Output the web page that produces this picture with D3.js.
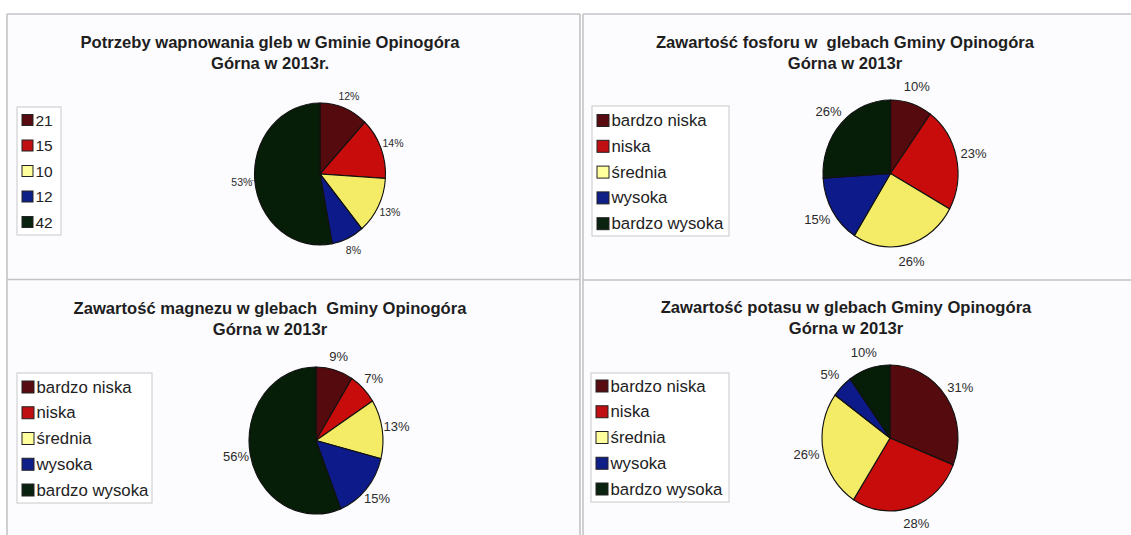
<!DOCTYPE html>
<html>
<head>
<meta charset="utf-8">
<script src="https://cdn.jsdelivr.net/npm/d3@7"></script>
<style>
  body { margin: 0; background: #ffffff; }
  text { font-family: "Liberation Sans", Arial, sans-serif; }
</style>
</head>
<body>
<div id="chart"></div>
<script>
// data
var titles = [
  ["Potrzeby wapnowania gleb w Gminie Opinogóra", "Górna w 2013r."],
  ["Zawartość fosforu w  glebach Gminy Opinogóra", "Górna w 2013r"],
  ["Zawartość magnezu w glebach  Gminy Opinogóra", "Górna w 2013r"],
  ["Zawartość potasu w glebach Gminy Opinogóra", "Górna w 2013r"]
];
var limeLabels = ["21", "15", "10", "12", "42"];
var limeShares = [12, 14, 13, 8, 53];
var classLabels = ["bardzo niska", "niska", "średnia", "wysoka", "bardzo wysoka"];
var phosphorus = [10, 23, 26, 15, 26];
var magnesium = [9, 7, 13, 15, 56];
var potassium = [31, 28, 26, 5, 10];

var sliceColors = ["#550a0e", "#c80b0b", "#f4ec66", "#0c1a8a", "#061d08"];
var legendColors = ["#580c12", "#c00f12", "#ffff9e", "#0f1f88", "#0a2210"];

var svgWidth = 1131, svgHeight = 535;

var svg = d3.select("#chart")
  .append("svg")
  .attr("width", svgWidth)
  .attr("height", svgHeight);

// panel frames
svg.append("rect").attr("x", 7).attr("y", 14).attr("width", 573).attr("height", 530).attr("fill", "#fcfcfe");
svg.append("rect").attr("x", 583).attr("y", 14).attr("width", 560).attr("height", 530).attr("fill", "#fcfcfe");
var frameLines = [
  [7, 14, 580, 14], [583, 14, 1131, 14],
  [7, 279.5, 580, 279.5], [583, 280, 1131, 280],
  [7, 14, 7, 535], [580, 14, 580, 535], [583, 14, 583, 535]
];
svg.selectAll("line.frame")
  .data(frameLines)
  .enter()
  .append("line")
  .attr("class", "frame")
  .attr("x1", d => d[0]).attr("y1", d => d[1])
  .attr("x2", d => d[2]).attr("y2", d => d[3])
  .attr("stroke", "#c4c4c8")
  .attr("stroke-width", 1.6);

// layout of the four charts
var panels = [
  { values: limeShares, labels: limeLabels, title: titles[0], tx: 270, ty: 42,
    cx: 320, cy: 174, rx: 65.5, ry: 71, labelR: 84, labelSize: 10.5,
    legend: { x: 17, y: 107, w: 44, h: 128, row0: 120, step: 25.5, font: 15.5, sw: 11 }, leader: 4 },
  { values: phosphorus, labels: classLabels, title: titles[1], tx: 845, ty: 42,
    cx: 890.5, cy: 173.5, rx: 67.5, ry: 73.5, labelR: 91, labelSize: 13,
    legend: { x: 592, y: 106, w: 137, h: 130, row0: 120.5, step: 25.8, font: 16.8, sw: 12 } },
  { values: magnesium, labels: classLabels, title: titles[2], tx: 270, ty: 308,
    cx: 316, cy: 440.5, rx: 67, ry: 73.5, labelR: 88, labelSize: 13,
    legend: { x: 17, y: 373, w: 135, h: 130, row0: 387, step: 25.75, font: 16.8, sw: 12 } },
  { values: potassium, labels: classLabels, title: titles[3], tx: 846, ty: 307,
    cx: 890, cy: 438, rx: 68, ry: 73, labelR: 90, labelSize: 13,
    legend: { x: 591, y: 373, w: 138, h: 129, row0: 386, step: 25.75, font: 16.8, sw: 12 } }
];

var pie = d3.pie().sort(null).value(d => d);

panels.forEach(function(p) {
  var g = svg.append("g");

  // title
  g.selectAll("text.title")
    .data(p.title)
    .enter()
    .append("text")
    .attr("class", "title")
    .attr("x", p.tx)
    .attr("y", (d, i) => p.ty + i * 21)
    .attr("text-anchor", "middle")
    .attr("dominant-baseline", "central")
    .attr("font-size", 16.6)
    .attr("font-weight", "bold")
    .attr("fill", "#1e1e1e")
    .style("white-space", "pre")
    .text(d => d);

  // pie, squeezed a little sideways like in the picture
  var r = p.ry;
  var sx = p.rx / p.ry;
  var arc = d3.arc().innerRadius(0).outerRadius(r);
  var arcs = pie(p.values);

  var pieG = g.append("g")
    .attr("transform", `translate(${p.cx}, ${p.cy}) scale(${sx}, 1)`);

  pieG.selectAll("path")
    .data(arcs)
    .enter()
    .append("path")
    .attr("d", arc)
    .attr("fill", (d, i) => sliceColors[i])
    .attr("stroke", "#111")
    .attr("stroke-width", 1.2);

  // percent labels
  var labelArc = d3.arc().innerRadius(p.labelR).outerRadius(p.labelR);
  g.append("g")
    .attr("transform", `translate(${p.cx}, ${p.cy})`)
    .selectAll("text")
    .data(arcs)
    .enter()
    .append("text")
    .attr("x", d => labelArc.centroid(d)[0] * (p.rx + p.labelR - p.ry) / p.labelR)
    .attr("y", d => labelArc.centroid(d)[1])
    .attr("text-anchor", "middle")
    .attr("dominant-baseline", "central")
    .attr("font-size", p.labelSize)
    .attr("fill", "#2a2a2a")
    .text(d => d.value + "%");

  if (p.leader !== undefined) {
    var a = arcs[p.leader];
    var mid = (a.startAngle + a.endAngle) / 2;
    g.append("line")
      .attr("x1", p.cx + Math.sin(mid) * (p.rx + 1))
      .attr("y1", p.cy - Math.cos(mid) * (p.ry - 1))
      .attr("x2", p.cx + Math.sin(mid) * (p.rx + 6))
      .attr("y2", p.cy - Math.cos(mid) * (p.ry - 3))
      .attr("stroke", "#999")
      .attr("stroke-width", 1);
  }

  // legend
  var L = p.legend;
  g.append("rect")
    .attr("x", L.x).attr("y", L.y)
    .attr("width", L.w).attr("height", L.h)
    .attr("fill", "#ffffff")
    .attr("stroke", "#c8c8cc")
    .attr("stroke-width", 1);

  var rows = g.selectAll("g.row")
    .data(p.labels)
    .enter()
    .append("g")
    .attr("class", "row")
    .attr("transform", (d, i) => `translate(${L.x + 5}, ${L.row0 + i * L.step})`);

  rows.append("rect")
    .attr("x", 0).attr("y", -L.sw / 2)
    .attr("width", L.sw).attr("height", L.sw)
    .attr("fill", (d, i) => legendColors[i])
    .attr("stroke", "#222")
    .attr("stroke-width", 1);

  rows.append("text")
    .attr("x", L.sw + 2.5)
    .attr("y", 0)
    .attr("dominant-baseline", "central")
    .attr("font-size", L.font)
    .attr("fill", "#222")
    .text(d => d);
});
</script>
</body>
</html>
